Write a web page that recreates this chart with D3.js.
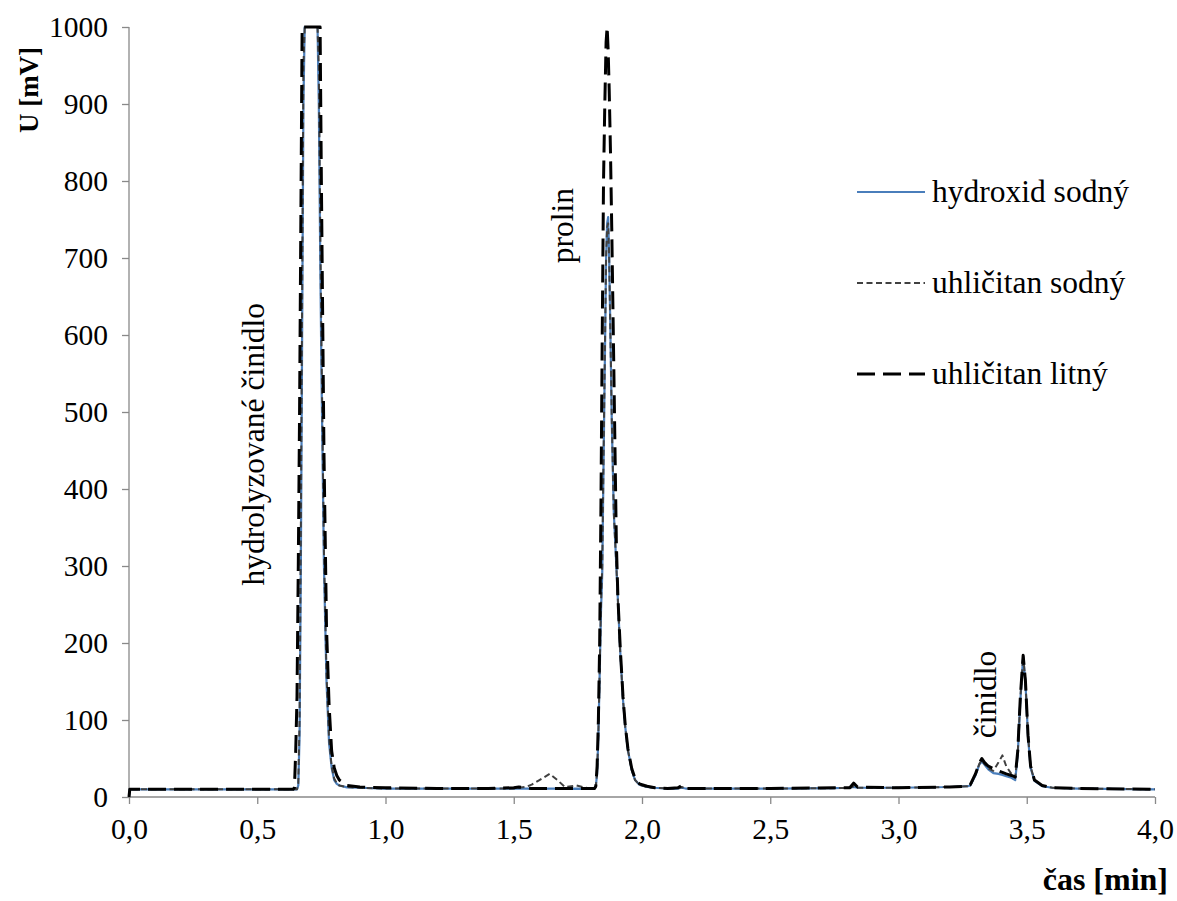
<!DOCTYPE html>
<html>
<head>
<meta charset="utf-8">
<script src="https://cdn.jsdelivr.net/npm/d3@7"></script>
<style>
  html, body { margin: 0; padding: 0; background: #fff; }
</style>
</head>
<body>
<svg id="chart" width="1177" height="901"></svg>
<script>
// ---------------- data ----------------
const times = [
  0, 0.003, 0.2, 0.4, 0.6, 0.64, 0.645, 0.65, 0.655, 0.66,
  0.665, 0.67, 0.675, 0.68, 0.685, 0.71, 0.735, 0.74, 0.745, 0.75,
  0.76, 0.77, 0.78, 0.79, 0.80, 0.81, 0.82, 0.85, 0.9, 1.0,
  1.2, 1.4, 1.5, 1.52, 1.545, 1.57, 1.6, 1.64, 1.67, 1.7,
  1.745, 1.78, 1.8, 1.815, 1.82, 1.825, 1.83, 1.835, 1.84, 1.845,
  1.85, 1.855, 1.86, 1.864, 1.868, 1.872, 1.877, 1.882, 1.89, 1.9,
  1.906, 1.915, 1.926, 1.935, 1.945, 1.96, 1.973, 1.99, 2.02, 2.05,
  2.1, 2.14, 2.155, 2.17, 2.5, 2.75, 2.81, 2.825, 2.84, 3.0,
  3.2, 3.27, 3.28, 3.30, 3.315, 3.325, 3.335, 3.35, 3.37, 3.39,
  3.405, 3.42, 3.44, 3.455, 3.465, 3.475, 3.486, 3.495, 3.505, 3.515,
  3.53, 3.56, 3.6, 3.7, 4.0
];

const hydroxidSodny = [
  0, 10, 10, 10, 10, 10, 10, 10, 10, 15,
  80, 300, 600, 900, 1000, 1000, 1000, 900, 720, 560,
  300, 150, 70, 38, 22, 17, 15, 12.5, 12, 11,
  11, 11, 11, 11, 11, 11, 10.5, 11, 11, 10.5,
  11, 10.5, 10.5, 11, 14, 30, 80, 160, 240, 290,
  430, 560, 700, 745, 753, 700, 600, 490, 370, 300,
  256, 190, 126, 90, 61, 35, 22, 16, 13, 12,
  11, 11, 12, 11, 11, 11.5, 12, 13, 12, 12,
  13, 14, 15, 28, 42, 46, 42, 36, 31, 30,
  28.5, 27, 25, 22, 55, 125, 182, 148, 78, 38,
  21, 14, 12, 11, 10
];

const uhlicitanSodny = [
  0, 10, 10, 10, 10, 10, 10, 10, 10, 18,
  100, 350, 650, 950, 1000, 1000, 1000, 950, 760, 600,
  320, 160, 75, 40, 24, 18, 15, 13, 12, 11,
  11, 11, 11, 12, 13, 16, 22, 30, 22, 13,
  15, 12, 11, 11, 14, 32, 85, 165, 250, 300,
  440, 570, 700, 740, 745, 700, 600, 495, 370, 300,
  256, 190, 126, 90, 61, 35, 22, 16, 13, 12,
  11, 11, 13, 11, 11, 11.5, 12, 14, 12, 12,
  13, 14, 15, 29, 43, 48, 43, 37, 34, 45,
  54, 40, 30, 25, 58, 128, 183, 150, 80, 39,
  22, 15, 12, 11, 10
];

const uhlicitanLitny = [
  0, 10, 10, 10, 10, 10, 12, 60, 130, 300,
  500, 750, 1000, 1000, 1000, 1000, 1000, 1000, 1000, 800,
  450, 220, 120, 60, 38, 28, 22, 15, 13, 12,
  11, 11, 12, 13, 12, 11, 11, 11, 11, 11,
  11, 11, 11, 11, 14, 40, 100, 200, 380, 600,
  800, 900, 980, 1000, 970, 920, 840, 740, 560, 330,
  260, 195, 130, 92, 63, 37, 24, 17, 14, 12,
  11, 12, 15, 11, 11, 12, 12, 18, 13, 12,
  13, 14, 16, 30, 44, 50, 45, 40, 37, 34,
  32, 30, 28, 26, 60, 130, 184, 150, 80, 40,
  22, 15, 12, 11, 10
];

const seriesNames = ["hydroxid sodný", "uhličitan sodný", "uhličitan litný"];
const xTicks = [0, 0.5, 1, 1.5, 2, 2.5, 3, 3.5, 4];
const yTicks = [0, 100, 200, 300, 400, 500, 600, 700, 800, 900, 1000];
const xTitle = "čas [min]";
const yTitle = "U [mV]";
const peakLabels = [
  { text: "hydrolyzované činidlo", t: 0.528, v: 458 },
  { text: "prolin", t: 1.73, v: 742 },
  { text: "činidlo", t: 3.38, v: 133 }
];

// ---------------- drawing ----------------
const FONT = "'Liberation Serif', 'Times New Roman', Times, serif";
const svg = d3.select("#chart").style("font-family", FONT);
const x = d3.scaleLinear().domain([0, 4]).range([129, 1155]);
const y = d3.scaleLinear().domain([0, 1000]).range([797, 27]);
const axisColor = "#898989";
const fmt = d => d3.format(".1f")(d).replace(".", ",");

// axes
const gx = svg.append("g").attr("transform", `translate(0,${y(0)})`)
  .call(d3.axisBottom(x).tickValues(xTicks).tickSize(7).tickPadding(14).tickFormat(fmt));
const gy = svg.append("g").attr("transform", `translate(${x(0)},0)`)
  .call(d3.axisLeft(y).tickValues(yTicks).tickSize(7).tickPadding(14).tickFormat(d3.format("d")));
[gx, gy].forEach(g => {
  g.attr("font-family", null).attr("font-size", null);
  g.selectAll("path.domain").attr("stroke", axisColor).attr("stroke-width", 1.3);
  g.selectAll(".tick line").attr("stroke", axisColor).attr("stroke-width", 1.3);
  g.selectAll(".tick text").style("font-size", "29.5px").style("font-family", FONT).attr("fill", "#000");
});
gx.selectAll("path.domain").attr("d", `M${x(0)},0H${x(4)}`);
gy.selectAll("path.domain").attr("d", `M0,${y(0)}V${y(1000)}`);
gx.selectAll(".tick text").attr("dy", "0.71em");

// lines
const series = [
  { name: seriesNames[0], values: hydroxidSodny, color: "#4a7ebb", width: 2.2, dash: null },
  { name: seriesNames[1], values: uhlicitanSodny, color: "#404040", width: 2, dash: "6,3.5" },
  { name: seriesNames[2], values: uhlicitanLitny, color: "#000000", width: 3, dash: "18,8" }
];
const line = d3.line().x(d => x(d[0])).y(d => y(d[1]));
series.forEach(s => {
  svg.append("path")
    .datum(times.map((t, i) => [t, s.values[i]]))
    .attr("d", line)
    .attr("fill", "none")
    .attr("stroke", s.color)
    .attr("stroke-width", s.width)
    .attr("stroke-linejoin", "round")
    .attr("stroke-dasharray", s.dash);
});

// peak labels (rotated)
peakLabels.forEach(p => {
  svg.append("text")
    .attr("transform", `translate(${x(p.t)},${y(p.v)}) rotate(-90)`)
    .attr("text-anchor", "middle")
    .style("font-family", FONT).style("font-size", "31.5px")
    .text(p.text);
});

// legend
const legendY = [192, 283, 374];
series.forEach((s, i) => {
  svg.append("line")
    .attr("x1", 857).attr("x2", 925)
    .attr("y1", legendY[i]).attr("y2", legendY[i])
    .attr("stroke", s.color).attr("stroke-width", s.width)
    .attr("stroke-dasharray", s.dash);
  svg.append("text")
    .attr("x", 932).attr("y", legendY[i] + 10)
    .style("font-family", FONT).style("font-size", "31.5px")
    .text(s.name);
});

// axis titles
svg.append("text")
  .attr("transform", `translate(38,90) rotate(-90)`)
  .attr("text-anchor", "middle")
  .style("font-family", FONT).style("font-size", "27px").style("font-weight", "bold")
  .text(yTitle);
svg.append("text")
  .attr("x", 1168).attr("y", 890)
  .attr("text-anchor", "end")
  .style("font-family", FONT).style("font-size", "32px").style("font-weight", "bold")
  .text(xTitle);
</script>
</body>
</html>
